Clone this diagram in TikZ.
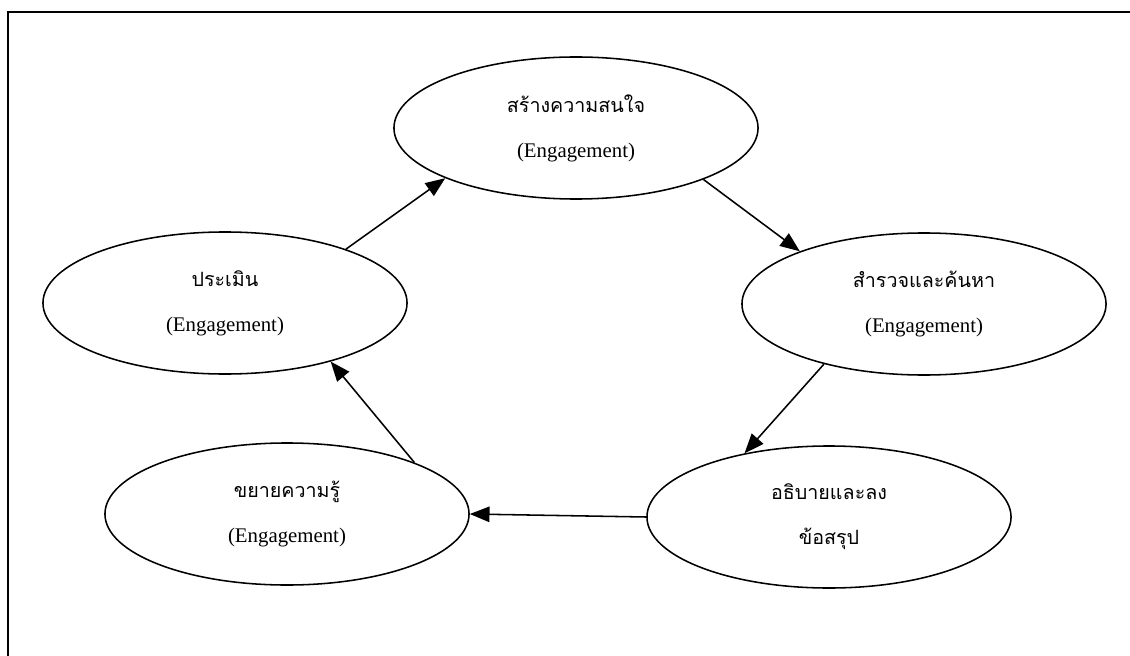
\documentclass[tikz,border=0pt]{standalone}
\usepackage{fontspec}
\setmainfont{Liberation Serif}
\newfontfamily\thaifont[Script=Thai]{Loma}
\usetikzlibrary{arrows.meta, shapes.geometric}
\newcommand{\thaitext}[1]{{\thaifont\fontsize{14}{32}\selectfont #1}}
\newcommand{\engtag}{(Engagement)}

\begin{document}
\begin{tikzpicture}[
  x=0.025cm, y=-0.025cm,
  phase/.style={draw, ellipse, line width=1.1pt, minimum width=9.1cm, minimum height=3.55cm,
    align=center, inner sep=0pt, font=\fontsize{14.8}{32}\selectfont},
  arrow/.style={-{Triangle[length=14pt, width=11pt]}, line width=1.1pt}
]
\useasboundingbox (0,0) rectangle (1130,656);

% page frame
\draw[line width=1.4pt] (1130,12) -- (8,12) -- (8,656);

% cycle nodes
\node[phase] (engage) at (576,128) {\thaitext{สร้างความสนใจ}\\\engtag};
\node[phase] (explore) at (924,304) {\thaitext{สำรวจและค้นหา}\\\engtag};
\node[phase] (explain) at (829,517) {\thaitext{อธิบายและลง}\\\thaitext{ข้อสรุป}};
\node[phase] (elaborate) at (287,514) {\thaitext{ขยายความรู้}\\\engtag};
\node[phase] (evaluate) at (225,303) {\thaitext{ประเมิน}\\\engtag};

\draw[arrow] (evaluate.24) -- (engage.201);
\draw[arrow] (engage.338) -- (explore.157);
\draw[arrow] (explore.211) -- (explain.143);
\draw[arrow] (explain.west) -- (elaborate.east);
\draw[arrow] (elaborate.22) -- (evaluate.331);

\end{tikzpicture}
\end{document}
